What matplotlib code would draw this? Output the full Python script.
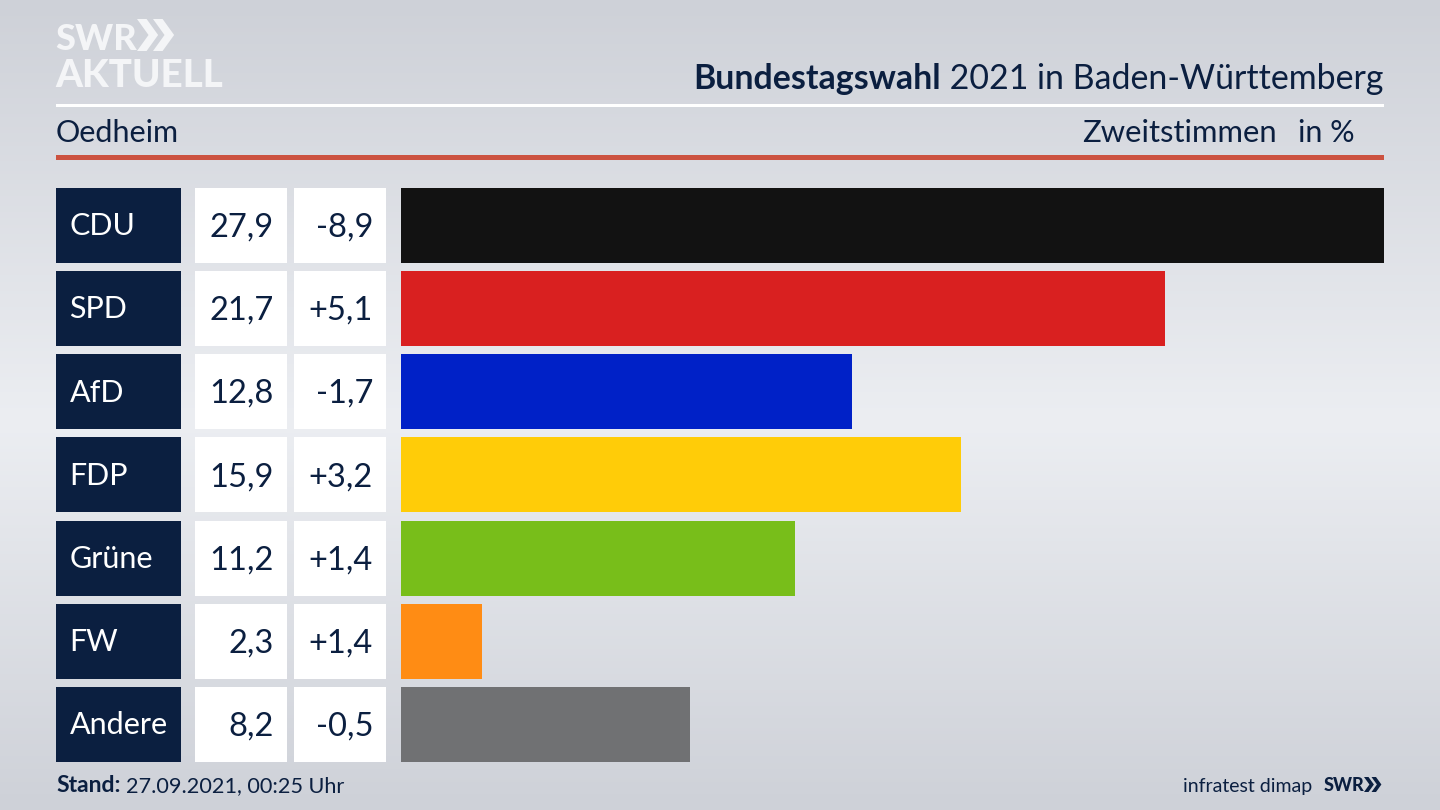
import numpy as np
import matplotlib
matplotlib.use('Agg')
import matplotlib.pyplot as plt
import matplotlib.patches as patches

parties = ['CDU', 'SPD', 'AfD', 'FDP', 'Grüne', 'FW', 'Andere']
shares = [27.9, 21.7, 12.8, 15.9, 11.2, 2.3, 8.2]
changes = ['-8,9', '+5,1', '-1,7', '+3,2', '+1,4', '+1,4', '-0,5']
colors = ['#121212', '#d92020', '#0021c7', '#ffcc08', '#78be1a', '#ff8c14', '#707173']

NAVY = '#0b1f40'
LOGO_WHITE = '#f4f5f7'
FONT = 'Lato'
BAR_LEFT, BAR_RIGHT = 400.5, 1384
TOP, BOTTOM = 187.5, 762
ROW_STEP = (687 - 187.5) / 6
ROW_H = 75


def chevrons(ax, x, y, h, color):
    # the two arrows next to the SWR wordmark
    w = h * 0.36
    t = h * 0.3
    for dx in (0, t + h * 0.2):
        pts = [(x + dx, y), (x + dx + t, y), (x + dx + t + w, y + h / 2),
               (x + dx + t, y + h), (x + dx, y + h), (x + dx + w, y + h / 2)]
        ax.add_patch(patches.Polygon(pts, closed=True, facecolor=color, edgecolor='none'))


def main():
    fig = plt.figure(figsize=(14.4, 8.1), dpi=100)

    # page coordinates = pixels, y down
    page = fig.add_axes([0, 0, 1, 1])
    page.set_xlim(0, 1440)
    page.set_ylim(810, 0)
    page.axis('off')

    # background gradient
    ys = np.linspace(0, 1, 256)
    stops = np.array([[206, 209, 216], [236, 238, 242], [206, 209, 216]]) / 255
    grad = np.stack([np.interp(ys, [0, 0.52, 1], stops[:, i]) for i in range(3)], axis=1)
    page.imshow(grad[:, None, :], extent=(0, 1440, 810, 0), aspect='auto', zorder=0)

    # logo
    page.text(55, 50, 'SWR', color=LOGO_WHITE, fontsize=26, fontweight='black', family=FONT,
              va='baseline', ha='left')
    chevrons(page, 137, 19, 32, LOGO_WHITE)
    page.text(55, 87, 'AKTUELL', color=LOGO_WHITE, fontsize=27.7, fontweight='black', family=FONT,
              va='baseline', ha='left')

    # header
    t = page.text(1383, 89, ' 2021 in Baden-Württemberg', color=NAVY, fontsize=24.4, family=FONT,
                  ha='right', va='baseline')
    page.annotate('Bundestagswahl', xy=(0, 0), xycoords=t, xytext=(0, 0), textcoords='offset points',
                  color=NAVY, fontsize=24.4, fontweight='bold', family=FONT, ha='right', va='bottom')
    page.add_patch(patches.Rectangle((56, 104), 1328, 3, facecolor='white', edgecolor='none'))
    page.text(56, 142, 'Oedheim', color=NAVY, fontsize=22, family=FONT, va='baseline')
    page.text(1277, 142, 'Zweitstimmen', color=NAVY, fontsize=22.3, family=FONT, ha='right', va='baseline')
    page.text(1355, 142, 'in %', color=NAVY, fontsize=22, family=FONT, ha='right', va='baseline')
    page.add_patch(patches.Rectangle((56, 155), 1328, 5, facecolor='#cc5240', edgecolor='none'))

    # table cells left of the bars
    for i, (party, share, change) in enumerate(zip(parties, shares, changes)):
        y = TOP + i * ROW_STEP
        mid = y + ROW_H / 2
        page.add_patch(patches.Rectangle((56, y), 125, ROW_H, facecolor=NAVY, edgecolor='none'))
        page.add_patch(patches.Rectangle((195, y), 92, ROW_H, facecolor='white', edgecolor='none'))
        page.add_patch(patches.Rectangle((294, y), 92, ROW_H, facecolor='white', edgecolor='none'))
        page.text(69.5, mid + 10, party, color='white', fontsize=22, family=FONT, va='baseline')
        page.text(274, mid + 11.5, f'{share:.1f}'.replace('.', ','), color=NAVY, fontsize=23.5, family=FONT,
                  ha='right', va='baseline')
        page.text(373, mid + 11.5, change, color=NAVY, fontsize=23.5, family=FONT, ha='right', va='baseline')

    # bars on their own axes, scale from the CDU bar
    ax = fig.add_axes([BAR_LEFT / 1440, 1 - BOTTOM / 810, (BAR_RIGHT - BAR_LEFT) / 1440, (BOTTOM - TOP) / 810])
    ax.patch.set_alpha(0)
    h = ROW_H / ROW_STEP
    ax.barh(range(len(parties)), shares, height=h, color=colors)
    ax.set_xlim(0, max(shares))
    ax.set_ylim(len(parties) - 1 + h / 2, -h / 2)
    ax.axis('off')

    # footer
    page.text(56, 792, 'Stand:', color=NAVY, fontsize=16.5, fontweight='bold', family=FONT, va='baseline')
    page.text(126, 792, '27.09.2021, 00:25 Uhr', color=NAVY, fontsize=15.6, family=FONT, va='baseline')
    page.text(1312, 792, 'infratest dimap', color=NAVY, fontsize=14, family=FONT, ha='right', va='baseline')
    page.text(1324, 791, 'SWR', color=NAVY, fontsize=13, fontweight='black', family=FONT, va='baseline')
    chevrons(page, 1364, 777, 15, NAVY)

    fig.savefig('out.png', dpi=100)


if __name__ == "__main__":
    main()
